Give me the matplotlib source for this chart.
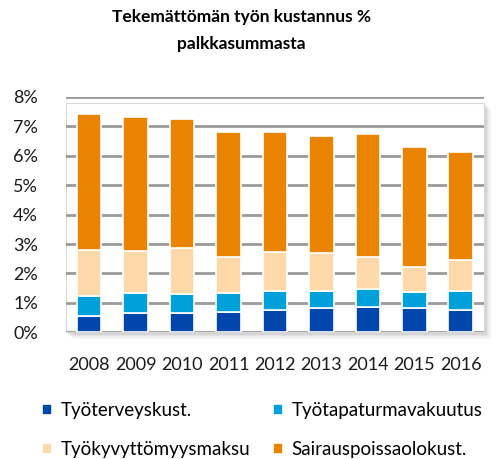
import numpy as np
import matplotlib
matplotlib.use('Agg')
import matplotlib.pyplot as plt
from matplotlib.patches import Rectangle
from matplotlib.ticker import FuncFormatter

plt.rcParams['font.family'] = ['Lato', 'DejaVu Sans']

years = ['2008', '2009', '2010', '2011', '2012', '2013', '2014', '2015', '2016']
# segment sizes, % of payroll
tyoterveys = [0.57, 0.67, 0.67, 0.68, 0.75, 0.84, 0.87, 0.81, 0.76]
tyotapaturma = [0.67, 0.65, 0.62, 0.67, 0.64, 0.57, 0.59, 0.55, 0.63]
tyokyvyttomyys = [1.55, 1.44, 1.59, 1.21, 1.34, 1.27, 1.09, 0.85, 1.05]
sairauspoissa = [4.64, 4.55, 4.36, 4.23, 4.08, 3.99, 4.18, 4.08, 3.69]

series = [
    ('Työterveyskust.', tyoterveys, '#0046AD'),
    ('Työtapaturmavakuutus', tyotapaturma, '#00A0DA'),
    ('Työkyvyttömyysmaksu', tyokyvyttomyys, '#FDD9A9'),
    ('Sairauspoissaolokust.', sairauspoissa, '#E98300'),
]

fig = plt.figure(figsize=(4.99, 4.59), dpi=100)
ax = fig.add_axes([0.132, 0.276, 0.838, 0.513])
ax.set_facecolor('none')

# drop shadow behind the plot area
for i, a in enumerate([0.05, 0.07, 0.10, 0.14]):
    off = 0.014 - i * 0.003
    fig.patches.append(Rectangle((0.132 + off, 0.276 - off * 1.1), 0.838, 0.50,
                                 transform=fig.transFigure, facecolor='#808080',
                                 alpha=a, edgecolor='none', zorder=-3))
fig.patches.append(Rectangle((0.132, 0.276), 0.838, 0.50, transform=fig.transFigure,
                             facecolor='white', edgecolor='#D8D8D8', lw=0.8, zorder=-2))

x = np.arange(len(years))
bottom = np.zeros(len(years))
for name, vals, col in series:
    ax.bar(x, vals, 0.53, bottom=bottom, color=col, edgecolor='white', linewidth=1.2,
           label=name, zorder=3)
    bottom += np.array(vals)

ax.set_ylim(0, 8)
ax.set_xlim(-0.5, len(years) - 0.5)
ax.set_yticks(range(0, 9))
ax.yaxis.set_major_formatter(FuncFormatter(lambda v, p: f'{int(v)}%'))
ax.set_xticks(x)
ax.set_xticklabels(years)
ax.tick_params(length=0, labelsize=13, colors='#1a1a1a')
ax.tick_params(axis='x', pad=18)
ax.tick_params(axis='y', pad=20)
ax.grid(axis='y', color='#9A9A9A', linewidth=2, zorder=0)
ax.set_axisbelow(True)
for s in ax.spines.values():
    s.set_visible(False)

fig.text(0.483, 0.98, 'Tekemättömän työn kustannus %\npalkkasummasta', ha='center',
         va='top', fontsize=12.5, fontweight='bold', linespacing=1.85)

h, l = ax.get_legend_handles_labels()
order = [0, 2, 1, 3]
fig.legend([h[i] for i in order], [l[i] for i in order], ncol=2,
           loc='upper left', bbox_to_anchor=(0.065, 0.145), frameon=False,
           fontsize=13.5, handlelength=0.55, handleheight=0.55, handletextpad=0.45,
           columnspacing=1.2, labelspacing=1.2, borderpad=0)

fig.savefig('out.png', dpi=100)
